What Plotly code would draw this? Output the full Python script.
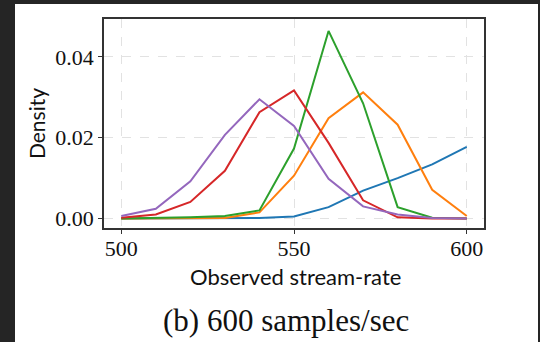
import plotly.graph_objects as go

x_rate = [500, 510, 520, 530, 540, 550, 560, 570, 580, 590, 600]
blue = [0.0, 0.0, 0.0, 0.0, 0.0001, 0.0005, 0.0028, 0.0069, 0.0100, 0.0134, 0.0177]
orange = [0.0, 0.0, 0.0001, 0.0001, 0.0015, 0.0106, 0.0248, 0.0312, 0.0232, 0.0071, 0.0006]
green = [0.0, 0.0001, 0.0003, 0.0006, 0.0020, 0.0173, 0.0464, 0.0285, 0.0028, 0.0002, 0.0]
red = [0.0002, 0.0010, 0.0041, 0.0118, 0.0263, 0.0317, 0.0187, 0.0045, 0.0003, 0.0, 0.0]
purple = [0.0006, 0.0024, 0.0092, 0.0207, 0.0295, 0.0229, 0.0098, 0.0030, 0.0010, 0.0001, 0.0]

series = [
    (blue, "#1f77b4"),
    (orange, "#ff7f0e"),
    (green, "#2ca02c"),
    (red, "#d62728"),
    (purple, "#9467bd"),
]

x_ticks = [500, 550, 600]
y_ticks = [0.0, 0.02, 0.04]
y_tick_labels = ["0.00", "0.02", "0.04"]

fig = go.Figure()
for ys, col in series:
    fig.add_trace(go.Scatter(x=x_rate, y=ys, mode="lines",
                             line=dict(color=col, width=2), showlegend=False))

L, R, T, B = 104, 56, 19, 114
W, H = 540, 342
pw = W - L - R
ph = H - T - B

def px_x(p):
    return (p - L) / pw

def px_y(p):
    return (H - B - p) / ph

fig.add_shape(type="rect", xref="paper", yref="paper",
              x0=px_x(15), x1=px_x(538), y0=px_y(342), y1=px_y(4),
              fillcolor="white", line=dict(width=0), layer="below")

axis_common = dict(
    showline=True, mirror=True, linecolor="#333333", linewidth=1.5,
    ticks="outside", ticklen=4, tickwidth=1.2, tickcolor="#333333",
    showgrid=True, gridcolor="#e2e2e2", gridwidth=1, griddash="dash",
    zeroline=False,
    tickfont=dict(family="Liberation Serif", size=22, color="#111111"),
)

fig.update_xaxes(range=[495, 605], tickvals=x_ticks,
                 ticktext=[str(v) for v in x_ticks],
                 ticklabelstandoff=-4,
                 **axis_common)
fig.update_yaxes(range=[-0.00235, 0.04935], tickvals=y_ticks,
                 ticktext=y_tick_labels,
                 title=dict(text="Density",
                            font=dict(family="Lato", size=21, color="#111111"),
                            standoff=4),
                 **axis_common)

fig.add_annotation(text="Observed stream-rate", xref="paper", yref="paper",
                   x=px_x(295), y=px_y(276), xanchor="center", yanchor="middle",
                   showarrow=False,
                   font=dict(family="Lato", size=22, color="#111111"))

fig.add_annotation(text="(b) 600 samples/sec", xref="paper", yref="paper",
                   x=px_x(286), y=px_y(320), xanchor="center", yanchor="middle",
                   showarrow=False,
                   font=dict(family="Liberation Serif", size=31, color="#111111"))

fig.update_layout(
    width=W, height=H,
    margin=dict(l=L, r=R, t=T, b=B),
    paper_bgcolor="#252525",
    plot_bgcolor="white",
)

fig.write_html("out.html")
